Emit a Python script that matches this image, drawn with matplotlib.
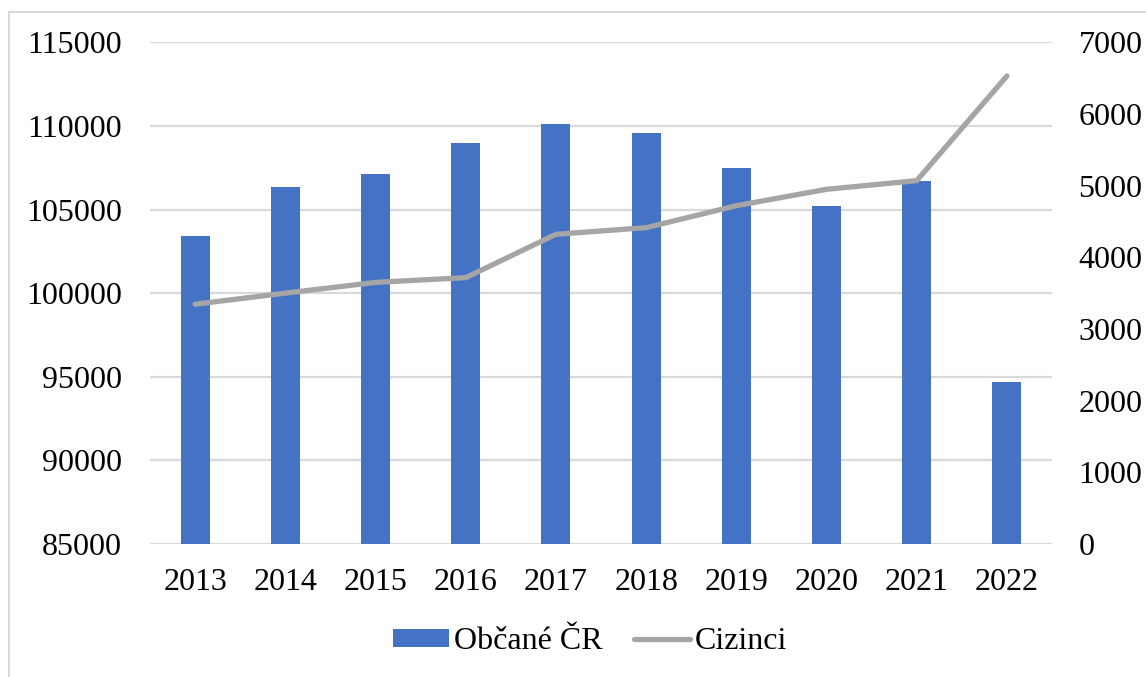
import numpy as np
import matplotlib
matplotlib.use("Agg")
import matplotlib.pyplot as plt
from matplotlib.patches import Rectangle

plt.rcParams['font.family'] = ['Liberation Serif', 'DejaVu Serif']

years = ['2013', '2014', '2015', '2016', '2017', '2018', '2019', '2020', '2021', '2022']
obcane_cr = [103400, 106350, 107130, 108970, 110100, 109600, 107500, 105230, 106690, 94700]
cizinci = [3345, 3500, 3650, 3716, 4321, 4414, 4720, 4949, 5070, 6530]

left_ticks = [85000, 90000, 95000, 100000, 105000, 110000, 115000]
right_ticks = [0, 1000, 2000, 3000, 4000, 5000, 6000, 7000]

bar_color = '#4472C4'
line_color = '#A5A5A5'
grid_color = '#D9D9D9'

fig = plt.figure(figsize=(11.46, 6.77), dpi=100)
ax = fig.add_axes([0.1309, 0.1965, 0.7871, 0.741])
ax2 = ax.twinx()

x = np.arange(len(years))
bars = ax.bar(x, obcane_cr, width=0.32, color=bar_color, zorder=2, label='Občané ČR')
ax.set_ylim(85000, 115000)
ax.set_yticks(left_ticks)
ax.set_xlim(-0.5, len(years) - 0.5)
ax.set_xticks(x)
ax.set_xticklabels(years)
ax.yaxis.grid(True, color=grid_color, linewidth=1.6, zorder=0)
ax.set_axisbelow(True)

line, = ax2.plot(x, cizinci, color=line_color, linewidth=3.8, solid_capstyle='round',
                 solid_joinstyle='round', label='Cizinci', zorder=3)
ax2.set_ylim(0, 7000)
ax2.set_yticks(right_ticks)

for a in (ax, ax2):
    for s in a.spines.values():
        s.set_visible(False)
    a.tick_params(length=0, labelsize=23, colors='black')
ax.tick_params(axis='y', pad=20)
ax.tick_params(axis='x', pad=17)
ax2.tick_params(axis='y', pad=19)

# keep bars above grid but below line
ax.set_zorder(1)
ax2.set_zorder(2)
ax.patch.set_visible(False)

fig.legend([bars, line], ['Občané ČR', 'Cizinci'], loc='center',
           bbox_to_anchor=(0.515, 0.052), ncol=2, frameon=False, fontsize=23,
           handlelength=1.75, handleheight=0.45, handletextpad=0.15, columnspacing=1.0)

fig.patches.append(Rectangle((9 / 1146, -0.1), 1.2, 1 - 12 / 677 + 0.1,
                             transform=fig.transFigure, fill=False,
                             edgecolor='#D9D9D9', linewidth=1.5))

fig.savefig('out.png', dpi=100)
